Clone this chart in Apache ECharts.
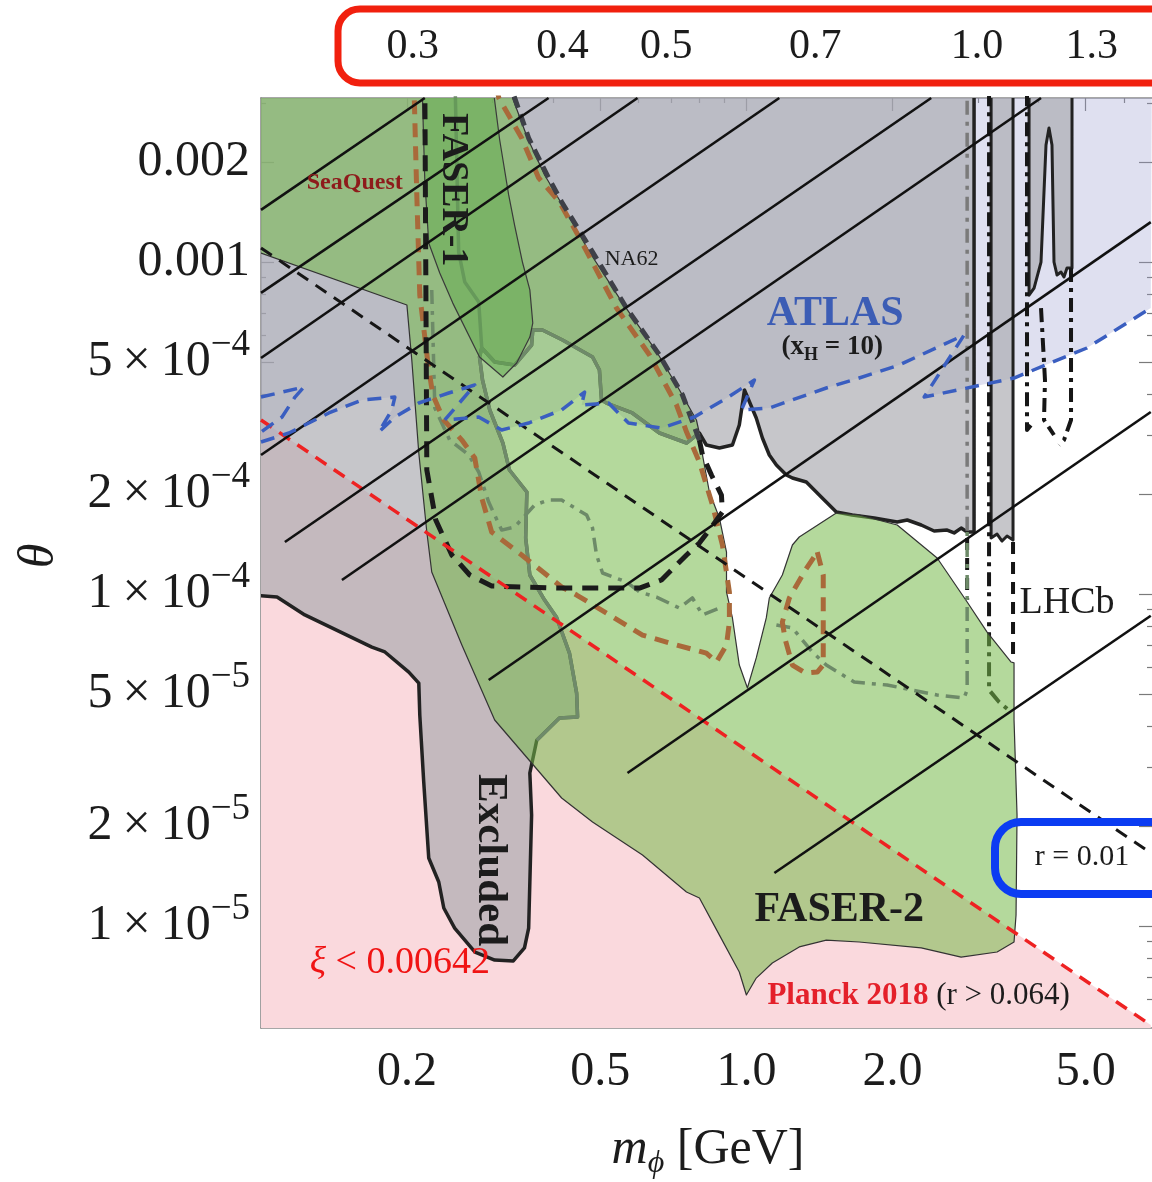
<!DOCTYPE html>
<html>
<head>
<meta charset="utf-8">
<title>Dark scalar mixing: theta vs m_phi</title>
<script src="https://cdn.jsdelivr.net/npm/echarts@6.0.0/dist/echarts.min.js"></script>
<style>
  html, body { margin: 0; padding: 0; background: #ffffff; }
  #chart { width: 1152px; height: 1182px; }
</style>
</head>
<body>
<div id="chart"></div>
<script>
// ---------- axis ranges and ticks ----------
const massRange = [0.1, 6.85];            // m_phi [GeV]
const thetaRange = [4.93e-6, 3.119e-3];   // mixing angle theta
const massTicks = [0.2, 0.5, 1.0, 2.0, 5.0];
const massTickLabels = ['0.2', '0.5', '1.0', '2.0', '5.0'];
const massMinorTicks = [0.3, 0.4, 0.6, 0.7, 0.8, 0.9, 3, 4, 6];
const thetaTicks = [2e-3, 1e-3, 5e-4, 2e-4, 1e-4, 5e-5, 2e-5, 1e-5];
const thetaTickLabels = ['0.002', '0.001', '5\u2009×\u200910^−4', '2\u2009×\u200910^−4', '1\u2009×\u200910^−4', '5\u2009×\u200910^−5', '2\u2009×\u200910^−5', '1\u2009×\u200910^−5'];
const thetaMinorTicks = [3e-3, 9e-4, 8e-4, 7e-4, 6e-4, 4e-4, 3e-4, 9e-5, 8e-5, 7e-5, 6e-5, 4e-5, 3e-5, 9e-6, 8e-6, 7e-6, 6e-6];
// secondary scale on the top edge, given at the masses where each value sits
const topScaleLabels = ['0.3', '0.4', '0.5', '0.7', '1.0', '1.3'];
const topScaleMass = [0.2055, 0.418, 0.684, 1.387, 2.988, 5.15];

// ---------- shaded regions  [m_phi, theta] ----------
const excludedRegion = [[0.09,4e-3],[2.945,4e-3],[2.945,1.537e-4],[2.850,1.537e-4],[2.770,1.580e-4],[2.679,1.527e-4],[2.592,1.558e-4],[2.437,1.548e-4],[2.292,1.614e-4],[2.145,1.671e-4],[2.045,1.648e-4],[1.834,1.694e-4],[1.652,1.730e-4],[1.532,1.766e-4],[1.413,1.987e-4],[1.329,2.175e-4],[1.244,2.236e-4],[1.209,2.283e-4],[1.153,2.446e-4],[1.115,2.623e-4],[1.079,2.951e-4],[1.048,3.390e-4],[0.991,4.116e-4],[0.967,3.228e-4],[0.936,2.811e-4],[0.880,2.753e-4],[0.827,2.811e-4],[0.800,3.055e-4],[0.753,2.850e-4],[0.662,3.055e-4],[0.582,3.510e-4],[0.515,3.761e-4],[0.503,3.840e-4],[0.498,4.728e-4],[0.482,5.174e-4],[0.418,5.823e-4],[0.380,6.240e-4],[0.363,6.240e-4],[0.361,5.623e-4],[0.333,4.895e-4],[0.303,4.997e-4],[0.285,5.508e-4],[0.282,5.174e-4],[0.286,4.411e-4],[0.296,3.583e-4],[0.315,2.850e-4],[0.325,2.363e-4],[0.353,2.029e-4],[0.351,1.475e-4],[0.358,1.141e-4],[0.384,9.59e-5],[0.406,8.53e-5],[0.432,6.64e-5],[0.447,5.03e-5],[0.449,4.26e-5],[0.412,4.23e-5],[0.370,3.63e-5],[0.358,2.89e-5],[0.361,2.16e-5],[0.356,9.86e-6],[0.349,8.59e-6],[0.331,7.85e-6],[0.303,7.90e-6],[0.276,8.35e-6],[0.2506,9.86e-6],[0.238,1.133e-5],[0.2324,1.357e-5],[0.2216,1.603e-5],[0.2164,2.716e-5],[0.2124,4.32e-5],[0.2114,5.39e-5],[0.2016,5.82e-5],[0.180,6.69e-5],[0.1692,6.92e-5],[0.1231,8.65e-5],[0.1079,9.79e-5],[0.09,1.0e-4]];
const excludedStrip = [[3.193,4e-3],[3.543,4e-3],[3.543,1.455e-4],[3.444,1.495e-4],[3.363,1.444e-4],[3.285,1.516e-4],[3.193,1.475e-4]];
const excludedFinger = [[3.823,4e-3],[4.687,4e-3],[4.687,9.59e-4],[4.577,9.59e-4],[4.512,9.01e-4],[4.448,9.33e-4],[4.365,9.14e-4],[4.303,1.0e-3],[4.262,2.251e-3],[4.202,2.533e-3],[4.143,2.251e-3],[4.046,1.0e-3],[3.915,8.35e-4],[3.823,7.95e-4]];
const excludedEdgeUpper = [[0.285,5.508e-4],[0.2809,7.58e-4],[0.2629,8.71e-4],[0.2554,1.072e-3],[0.2506,4e-3]];
const faser2Region = [[0.1,1.064e-3],[0.1998,7.42e-4],[0.2045,5.067e-4],[0.2114,2.659e-4],[0.2196,1.537e-4],[0.2248,1.165e-4],[0.2593,7.02e-5],[0.303,4.174e-5],[0.4163,2.430e-5],[0.482,2.057e-5],[0.6109,1.637e-5],[0.7526,1.266e-5],[0.8003,1.214e-5],[0.880,9.39e-6],[0.967,7.27e-6],[1.0,6.20e-6],[1.048,6.97e-6],[1.131,7.74e-6],[1.285,8.65e-6],[1.461,9.07e-6],[1.708,8.95e-6],[2.292,8.59e-6],[2.770,8.06e-6],[3.285,8.35e-6],[3.56,8.95e-6],[3.594,1.079e-5],[3.611,2.160e-5],[3.56,4.174e-5],[3.56,6.20e-5],[3.511,6.24e-5],[3.133,7.68e-5],[2.850,9.46e-5],[2.472,1.284e-4],[2.045,1.614e-4],[1.708,1.730e-4],[1.532,1.754e-4],[1.285,1.485e-4],[1.244,1.405e-4],[1.186,1.141e-4],[1.115,9.73e-5],[1.099,8.47e-5],[1.048,6.42e-5],[1.005,5.21e-5],[0.967,6.11e-5],[0.936,8.47e-5],[0.910,1.014e-4],[0.910,1.338e-4],[0.880,1.694e-4],[0.839,2.029e-4],[0.812,2.623e-4],[0.800,3.055e-4],[0.789,3.343e-4],[0.728,4.116e-4],[0.650,5.43e-4],[0.556,7.52e-4],[0.475,1.072e-3],[0.412,1.537e-3],[0.384,1.828e-3],[0.354,2.363e-3],[0.318,3.6e-3],[0.09,3.6e-3],[0.09,1.07e-3]];
const faser1Band = [[0.2145,3.6e-3],[0.2175,1.766e-3],[0.2216,1.141e-3],[0.2335,9.27e-4],[0.2484,7.52e-4],[0.282,5.174e-4],[0.315,4.504e-4],[0.3363,4.963e-4],[0.358,5.944e-4],[0.363,6.55e-4],[0.358,8.24e-4],[0.346,9.93e-4],[0.333,1.292e-3],[0.3238,1.592e-3],[0.3103,2.331e-3],[0.2987,3.6e-3]];

// ---------- curves ----------
const planckLine = [[0.1,3.343e-4],[6.81,5.03e-6]];       // r = 0.064
const rPoint01Line = [[0.1,1.102e-3],[6.81,1.659e-5]];    // r = 0.01
const xiContours = [
  [[0.1,1.435e-3],[0.2175,3.12e-3]],
  [[0.1,8.07e-4],[0.3913,3.12e-3]],
  [[0.1,5.138e-4],[0.5966,3.12e-3]],
  [[0.1,2.623e-4],[1.169,3.12e-3]],
  [[0.112,1.434e-4],[2.403,3.12e-3]],
  [[0.1468,1.102e-4],[4.046,3.12e-3]],
  [[0.2945,5.51e-5],[6.81,1.319e-3]],
  [[0.5689,2.889e-5],[6.81,3.533e-4]],
  [[1.142,1.444e-5],[6.81,8.6e-5]]
];
const atlasCurve = [[0.1,2.87e-4],[0.1142,3.055e-4],[0.138,3.51e-4],[0.1614,3.84e-4],[0.1887,3.92e-4],[0.186,3.583e-4],[0.1749,3.076e-4],[0.1887,3.413e-4],[0.2114,3.761e-4],[0.2436,4.031e-4],[0.2757,4.262e-4],[0.2391,3.343e-4],[0.2809,3.413e-4],[0.3132,3.119e-4],[0.3559,3.274e-4],[0.4163,3.583e-4],[0.4642,4.059e-4],[0.4576,3.709e-4],[0.52,3.761e-4],[0.5717,3.274e-4],[0.6685,3.162e-4],[0.7816,3.413e-4],[0.9182,3.92e-4],[1.039,4.411e-4],[0.9766,3.583e-4],[1.115,3.633e-4],[1.461,4.174e-4],[1.708,4.473e-4],[2.064,4.895e-4],[2.809,6.026e-4],[2.324,3.92e-4],[3.56,4.473e-4],[5.03,5.508e-4],[6.81,7.267e-4]];
const atlasLoop = [[0.1,3.92e-4],[0.1226,4.203e-4],[0.1175,3.92e-4],[0.1105,3.413e-4],[0.1,3.076e-4]];
const seaquestCurve = [[0.2064,3.6e-3],[0.2094,1.592e-3],[0.2124,7.95e-4],[0.2206,4.997e-4],[0.2259,3.976e-4],[0.238,3.343e-4],[0.2593,2.909e-4],[0.2757,2.568e-4],[0.285,1.946e-4],[0.2987,1.537e-4],[0.3444,1.311e-4],[0.4163,1.05e-4],[0.447,9.93e-5],[0.5225,8.65e-5],[0.6109,7.52e-5],[0.694,7.12e-5],[0.827,6.64e-5],[0.868,6.24e-5],[0.910,7.02e-5],[0.9226,8.23e-5],[0.9226,1.014e-4],[0.8925,1.405e-4],[0.8515,1.854e-4],[0.800,2.498e-4],[0.753,3.076e-4],[0.718,3.709e-4],[0.6316,5.246e-4],[0.540,7.267e-4],[0.4533,1.181e-3],[0.412,1.516e-3],[0.3733,1.791e-3],[0.3444,2.363e-3],[0.309,3.12e-3],[0.303,3.6e-3]];
const seaquestIsland = [[1.400,1.338e-4],[1.440,1.141e-4],[1.440,6.11e-5],[1.400,5.82e-5],[1.323,5.78e-5],[1.244,6.11e-5],[1.203,7.27e-5],[1.186,8.23e-5],[1.226,9.73e-5],[1.323,1.181e-4],[1.400,1.338e-4]];
const faser2AltLeft = [[0.2248,8.24e-4],[0.2281,3.633e-4],[0.2448,2.909e-4],[0.2679,2.623e-4],[0.2809,2.331e-4],[0.2945,1.892e-4],[0.3132,1.558e-4],[0.333,1.591e-4],[0.3663,1.854e-4],[0.3913,1.919e-4],[0.4163,1.919e-4],[0.4687,1.730e-4],[0.482,1.580e-4],[0.4912,1.311e-4],[0.5055,1.157e-4],[0.5663,1.087e-4],[0.6023,1.014e-4],[0.6529,9.79e-5],[0.728,9.07e-5],[0.7742,9.73e-5],[0.812,8.65e-5],[0.880,9.07e-5]];
const faser2AltRight = [[1.153,8.07e-5],[1.244,7.90e-5],[1.367,6.69e-5],[1.461,6.11e-5],[1.668,5.43e-5],[1.950,5.32e-5],[2.472,4.963e-5],[2.809,4.86e-5],[2.850,5.14e-5],[2.850,1.55e-4]];
const faser2AltUpper = [[2.850,1.55e-4],[2.850,4e-3]];
const faser1Curve = [[0.2175,3.6e-3],[0.2196,2.363e-4],[0.2291,1.671e-4],[0.2472,1.311e-4],[0.2692,1.141e-4],[0.2987,1.057e-4],[0.412,1.042e-4],[0.6023,1.042e-4],[0.6685,1.102e-4],[0.753,1.311e-4],[0.800,1.424e-4],[0.8473,1.591e-4],[0.8925,1.766e-4],[0.8884,1.987e-4],[0.8473,2.283e-4],[0.812,2.623e-4],[0.800,2.909e-4]];
const na62Curve = [[0.800,2.909e-4],[0.7385,3.976e-4],[0.662,5.246e-4],[0.5663,7.267e-4],[0.482,1.072e-3],[0.4163,1.516e-3],[0.3913,1.791e-3],[0.3559,2.363e-3],[0.322,3.6e-3]];
const lhcbDashDot = [
  [[3.162,4e-3],[3.162,5.14e-5],[3.316,4.73e-5],[3.511,4.41e-5]],
  [[3.786,4e-3],[3.786,3.119e-4],[3.859,3.228e-4]],
  [[4.046,7.267e-4],[4.123,4.411e-4],[4.104,3.343e-4],[4.303,3.013e-4]],
  [[4.665,9.59e-4],[4.665,3.343e-4],[4.512,2.909e-4],[4.406,2.811e-4]]
];
const lhcbDashed = [
  [[2.850,1.475e-4],[2.850,9.59e-5]],
  [[3.543,1.434e-4],[3.543,6.24e-5]]
];

// ---------- helpers ----------
const L = Math.log10;
const toXY = p => [L(p[0]), L(p[1])];
const SERIF = '"Liberation Serif", "Times New Roman", serif';
const INK = '#1c1c1c';

function nearestLabel(values, labels, v) {
  let best = 0;
  for (let i = 1; i < values.length; i++) {
    if (Math.abs(L(values[i]) - v) < Math.abs(L(values[best]) - v)) best = i;
  }
  return labels[best];
}

function region(pts, fill, stroke, lineWidth, z) {
  return {
    type: 'custom', coordinateSystem: 'cartesian2d', clip: true, silent: true, z: z,
    data: [[-0.5, -4]],
    renderItem: function (params, api) {
      const points = pts.map(p => api.coord(toXY(p)));
      return {
        type: 'polygon', shape: { points: points },
        style: { fill: fill, stroke: stroke || 'none', lineWidth: lineWidth || 0, lineJoin: 'round' }
      };
    }
  };
}

function curve(pts, color, width, dash, z) {
  return {
    type: 'line', data: pts.map(toXY), symbol: 'none', showSymbol: false, silent: true,
    clip: true, z: z, lineStyle: { color: color, width: width, type: dash, cap: 'butt', join: 'round' }
  };
}

// the stretch of the excluded boundary that runs underneath the FASER-2 shading
const edgeStart = excludedRegion.findIndex(p => p[0] === 0.800 && p[1] === 3.055e-4);
const edgeEnd = excludedRegion.findIndex(p => p[0] === 0.370 && p[1] === 3.63e-5);
const excludedEdgeShaded = excludedRegion.slice(edgeStart, edgeEnd + 1);

const series = [];
// Planck region below the r = 0.064 line
series.push(region(planckLine.concat([[planckLine[1][0], 1e-6], [planckLine[0][0], 1e-6]]), '#fad9dd', null, 0, 1));
// ATLAS reach (above its projected curve)
series.push(region(atlasCurve.concat([[6.85, 5e-3], [0.09, 5e-3], [0.09, 2.87e-4]]), 'rgba(159,161,210,0.33)', null, 0, 2));
// excluded parameter space
series.push(region(excludedRegion, 'rgba(168,168,174,0.66)', '#222222', 3.5, 3));
series.push(region(excludedStrip, 'rgba(168,168,174,0.66)', '#222222', 3, 3));
series.push(region(excludedFinger, 'rgba(168,168,174,0.66)', '#222222', 3, 3));
// LHCb projections
lhcbDashDot.forEach(c => series.push(curve(c, '#161616', 4, [14, 6, 4, 6], 4)));
lhcbDashed.forEach(c => series.push(curve(c, '#161616', 4, [12, 8], 4)));
// FASER-2 reach and the FASER-1 band
series.push(region(faser2Region, 'rgba(119,186,75,0.55)', '#333333', 1.2, 5));
series.push(curve(excludedEdgeShaded, '#6f8a6a', 3.5, 'solid', 5.5));
series.push(curve(excludedEdgeUpper, '#6f8a6a', 3.5, 'solid', 5.5));
series.push(region(faser1Band, 'rgba(90,170,70,0.45)', '#3a3a3a', 1.2, 6));
// alternative FASER-2 contour
series.push(curve(faser2AltLeft, '#6d8a68', 3.5, [14, 7, 4, 7], 7));
series.push(curve(faser2AltRight, '#6d8a68', 3.5, [14, 7, 4, 7], 7));
series.push(curve(faser2AltUpper, '#7a7a7a', 3.5, [14, 7, 4, 7], 7));
// SeaQuest, FASER-1, NA62
series.push(curve(seaquestCurve, '#a9693a', 5, [14, 9], 8));
series.push(curve(seaquestIsland, '#a9693a', 5, [14, 9], 8));
series.push(curve(faser1Curve, '#1b1b1b', 5, [16, 10], 8));
series.push(curve(na62Curve, '#3e4048', 5, [12, 7], 8));
// reference lines in r
series.push(curve(planckLine, '#ee2222', 3.5, [13, 9], 9));
series.push(curve(rPoint01Line, '#161616', 3, [13, 9], 9));
xiContours.forEach(c => series.push(curve(c, '#111111', 2.6, 'solid', 10)));
// ATLAS curve
series.push(curve(atlasCurve, '#3a5ec0', 3.5, [14, 9], 11));
series.push(curve(atlasLoop, '#3a5ec0', 3.5, [14, 9], 11));

// in-plot annotations anchored in data space
const annotations = [
  { at: [0.156, 1.73e-3], text: 'SeaQuest', style: { fontSize: 24, fontWeight: 'bold', fill: '#8e1b1b' } },
  { at: [0.2484, 1.65e-3], text: 'FASER-1', rot: -Math.PI / 2, style: { fontSize: 38, fontWeight: 'bold', fill: INK } },
  { at: [0.580, 1.021e-3], text: 'NA62', style: { fontSize: 22, fill: INK } },
  { at: [1.524, 6.97e-4], text: 'ATLAS', style: { fontSize: 42, fontWeight: 'bold', fill: '#3c5db5' } },
  { at: [1.503, 5.546e-4], text: '{a|(x}{b|H}{a| = 10)}', style: {
      rich: { a: { fontSize: 27, fontWeight: 'bold', fontFamily: SERIF, fill: INK, lineHeight: 34 },
              b: { fontSize: 18, fontWeight: 'bold', fontFamily: SERIF, fill: INK, lineHeight: 20, verticalAlign: 'bottom' } } } },
  { at: [4.577, 9.395e-5], text: 'LHCb', style: { fontSize: 38, fill: INK } },
  { at: [0.296, 1.58e-5], text: 'Excluded', rot: -Math.PI / 2, style: { fontSize: 43, fontWeight: 'bold', fill: INK } },
  { at: [0.1932, 7.74e-6], text: '{x|ξ} < 0.00642', style: { fontSize: 38, fill: '#f01414',
      rich: { x: { fontSize: 38, fontStyle: 'italic', fontFamily: SERIF, fill: '#f01414' } } } },
  { at: [1.554, 1.117e-5], text: 'FASER-2', style: { fontSize: 42, fontWeight: 'bold', fill: INK } },
  { at: [1.105, 6.15e-6], text: '{p|Planck 2018}{q| (r > 0.064)}', align: 'left', style: {
      rich: { p: { fontSize: 31, fontWeight: 'bold', fontFamily: SERIF, fill: '#e4202a' },
              q: { fontSize: 31, fontFamily: SERIF, fill: INK } } } }
];
series.push({
  type: 'custom', coordinateSystem: 'cartesian2d', clip: false, silent: true, z: 20,
  data: [[-0.5, -4]],
  renderItem: function (params, api) {
    return {
      type: 'group',
      children: annotations.map(a => {
        const p = api.coord(toXY(a.at));
        return {
          type: 'text', x: p[0], y: p[1], rotation: a.rot || 0,
          style: Object.assign({ text: a.text, fontFamily: SERIF, align: a.align || 'center', verticalAlign: 'middle' }, a.style)
        };
      })
    };
  }
});

// ---------- axes ----------
const xBase = { type: 'value', min: L(massRange[0]), max: L(massRange[1]), gridIndex: 0, splitLine: { show: false } };
const yBase = { type: 'value', min: L(thetaRange[0]), max: L(thetaRange[1]), gridIndex: 0, splitLine: { show: false } };
const frameLine = { show: true, onZero: false, lineStyle: { color: '#8a8a8a', width: 1.6 } };
const noLine = { show: false, onZero: false };
const majorTick = (vals) => ({ show: true, inside: true, length: 13, customValues: vals.map(L), lineStyle: { color: '#7a7a7a', width: 1.2 } });
const minorTick = (vals) => ({ show: true, inside: true, length: 5, customValues: vals.map(L), lineStyle: { color: '#7a7a7a', width: 1.2 } });

const xAxis = [
  Object.assign({}, xBase, { position: 'bottom', axisLine: frameLine, axisTick: majorTick(massTicks),
    axisLabel: { show: true, customValues: massTicks.map(L), margin: 20, fontSize: 48, fontFamily: SERIF, color: INK,
      formatter: v => nearestLabel(massTicks, massTickLabels, v) } }),
  Object.assign({}, xBase, { position: 'bottom', axisLine: noLine, axisTick: minorTick(massMinorTicks), axisLabel: { show: false } }),
  Object.assign({}, xBase, { position: 'top', axisLine: frameLine, axisTick: majorTick(massTicks), axisLabel: { show: false } }),
  Object.assign({}, xBase, { position: 'top', axisLine: noLine, axisTick: minorTick(massMinorTicks), axisLabel: { show: false } }),
  Object.assign({}, xBase, { position: 'top', axisLine: noLine, axisTick: { show: false },
    axisLabel: { show: true, customValues: topScaleMass.map(L), margin: 30, fontSize: 42, fontFamily: SERIF, color: INK,
      formatter: v => nearestLabel(topScaleMass, topScaleLabels, v) } })
];
const yAxis = [
  Object.assign({}, yBase, { position: 'left', axisLine: frameLine, axisTick: majorTick(thetaTicks),
    axisLabel: { show: true, customValues: thetaTicks.map(L), margin: 11, color: INK,
      formatter: v => {
        const s = nearestLabel(thetaTicks, thetaTickLabels, v);
        const parts = s.split('^');
        return parts.length > 1 ? '{n|' + parts[0] + '}{s|' + parts[1] + '}' : '{n|' + s + '}';
      },
      rich: {
        n: { fontSize: 50, fontFamily: SERIF, color: INK, lineHeight: 70 },
        s: { fontSize: 37, fontFamily: SERIF, color: INK, lineHeight: 36, verticalAlign: 'top' }
      } } }),
  Object.assign({}, yBase, { position: 'left', axisLine: noLine, axisTick: minorTick(thetaMinorTicks), axisLabel: { show: false } }),
  Object.assign({}, yBase, { position: 'right', axisLine: noLine, axisTick: majorTick(thetaTicks), axisLabel: { show: false } }),
  Object.assign({}, yBase, { position: 'right', axisLine: noLine, axisTick: minorTick(thetaMinorTicks), axisLabel: { show: false } })
];

const chart = echarts.init(document.getElementById('chart'), null, { renderer: 'canvas' });
chart.setOption({
  animation: false,
  backgroundColor: '#ffffff',
  grid: { left: 261, top: 98, width: 892, height: 930 },
  xAxis: xAxis,
  yAxis: yAxis,
  series: series,
  graphic: [
    // axis titles
    { type: 'text', x: 40, y: 556, rotation: Math.PI / 2, z: 100,
      style: { text: 'θ', fontSize: 50, fontStyle: 'italic', fontFamily: SERIF, fill: INK, align: 'center', verticalAlign: 'middle' } },
    { type: 'text', x: 708, y: 1150, z: 100,
      style: { text: '{m|m}{p|ϕ}{t| [GeV]}', align: 'center', verticalAlign: 'middle',
        rich: {
          m: { fontSize: 50, fontStyle: 'italic', fontFamily: SERIF, fill: INK, lineHeight: 60 },
          p: { fontSize: 32, fontStyle: 'italic', fontFamily: SERIF, fill: INK, lineHeight: 30, verticalAlign: 'bottom' },
          t: { fontSize: 50, fontFamily: SERIF, fill: INK, lineHeight: 60 }
        } } },
    // frame around the top scale
    { type: 'rect', z: 100, shape: { x: 338, y: 9, width: 850, height: 74, r: 22 },
      style: { fill: 'none', stroke: '#f1200e', lineWidth: 7 } },
    // r = 0.01 tag
    { type: 'rect', z: 100, shape: { x: 995, y: 822, width: 200, height: 72, r: 26 },
      style: { fill: 'none', stroke: '#0b3cf2', lineWidth: 8 } },
    { type: 'text', x: 1082, y: 857, z: 100,
      style: { text: 'r = 0.01', fontSize: 30, fontFamily: SERIF, fill: INK, align: 'center', verticalAlign: 'middle' } }
  ]
});
</script>
</body>
</html>
